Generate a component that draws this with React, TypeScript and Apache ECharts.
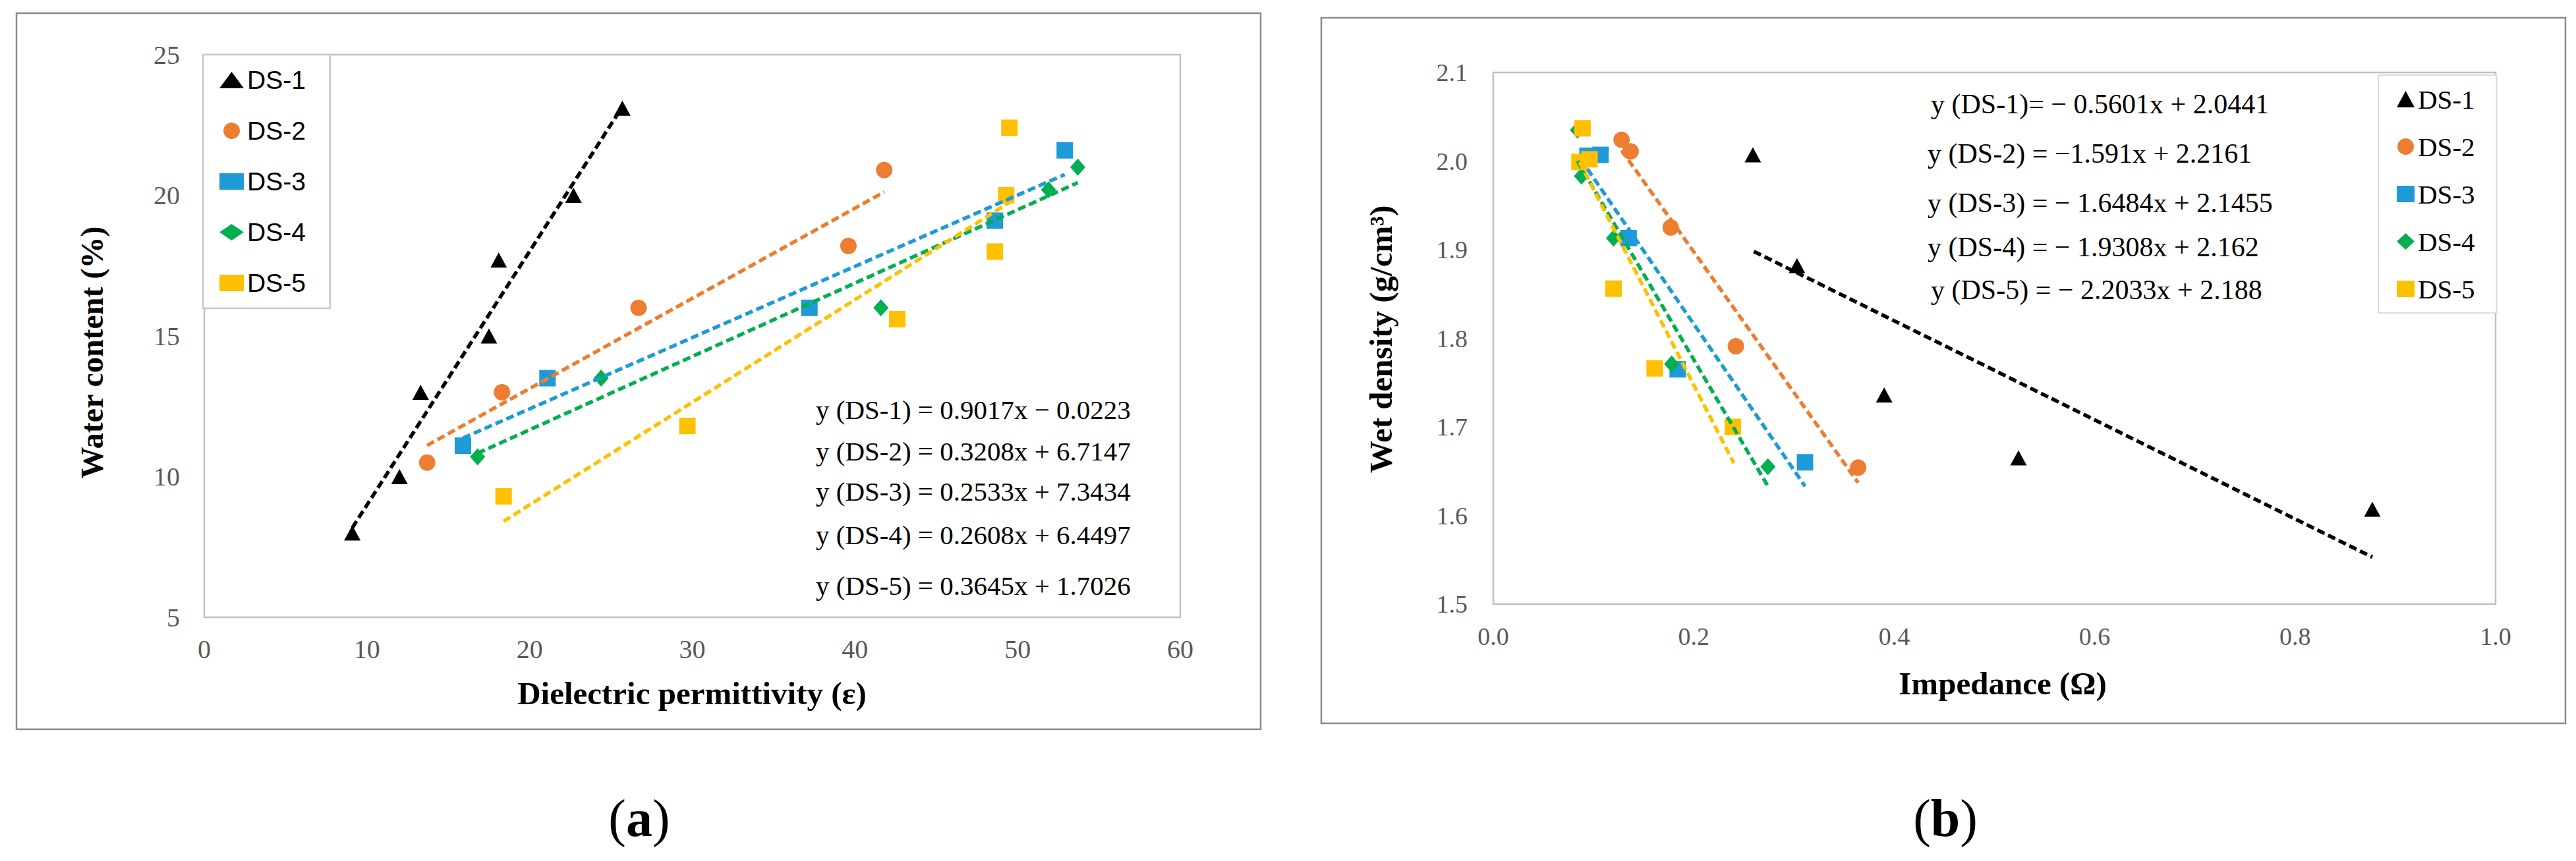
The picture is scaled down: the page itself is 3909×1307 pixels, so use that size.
import React, { useEffect, useRef } from "react";
import * as echarts from "echarts";

// ---------- data ----------
const dsNames = ["DS-1", "DS-2", "DS-3", "DS-4", "DS-5"];
const dsColors = ["#000000", "#ED7D31", "#1E9BD7", "#00B050", "#FFC000"];
const dsSymbols = ["triangle", "circle", "rect", "diamond", "rect"];

// Panel (a): dielectric permittivity vs water content
const aDS1 = [[9.1, 8.0], [12.0, 10.0], [13.3, 13.0], [17.5, 15.0], [18.1, 17.7], [22.7, 20.0], [25.7, 23.1]];
const aDS2 = [[13.7, 10.5], [18.3, 13.0], [26.7, 16.0], [39.6, 18.2], [41.8, 20.9]];
const aDS3 = [[15.9, 11.1], [21.1, 13.5], [37.2, 16.0], [48.6, 19.1], [52.9, 21.6]];
const aDS4 = [[16.8, 10.7], [24.4, 13.5], [41.6, 16.0], [51.9, 20.2], [53.7, 21.0]];
const aDS5 = [[18.4, 9.3], [29.7, 11.8], [42.6, 15.6], [48.6, 18.0], [49.3, 20.0], [49.5, 22.4]];
// trend line end points
const aTrend1 = [[9.1, 8.18], [25.7, 23.15]];
const aTrend2 = [[13.7, 11.11], [41.8, 20.12]];
const aTrend3 = [[15.9, 11.37], [52.9, 20.74]];
const aTrend4 = [[16.8, 10.83], [53.7, 20.45]];
const aTrend5 = [[18.4, 8.41], [49.5, 19.75]];
const aEquations = [
  "y (DS-1) = 0.9017x − 0.0223",
  "y (DS-2) = 0.3208x + 6.7147",
  "y (DS-3) = 0.2533x + 7.3434",
  "y (DS-4) = 0.2608x + 6.4497",
  "y (DS-5) = 0.3645x + 1.7026",
];

// Panel (b): impedance vs wet density
const bDS1 = [[0.259, 2.007], [0.303, 1.882], [0.39, 1.736], [0.524, 1.665], [0.877, 1.607]];
const bDS2 = [[0.128, 2.024], [0.137, 2.011], [0.177, 1.925], [0.242, 1.791], [0.364, 1.654]];
const bDS3 = [[0.094, 2.006], [0.107, 2.007], [0.135, 1.913], [0.184, 1.765], [0.311, 1.66]];
const bDS4 = [[0.084, 2.035], [0.088, 1.983], [0.12, 1.913], [0.178, 1.771], [0.274, 1.655]];
const bDS5 = [[0.089, 2.037], [0.086, 1.999], [0.096, 2.002], [0.12, 1.856], [0.161, 1.766], [0.239, 1.7]];
const bTrend1 = [[0.26, 1.898], [0.877, 1.553]];
const bTrend2 = [[0.128, 2.012], [0.364, 1.637]];
const bTrend3 = [[0.094, 1.991], [0.311, 1.633]];
const bTrend4 = [[0.084, 2.0], [0.274, 1.633]];
const bTrend5 = [[0.086, 1.999], [0.24, 1.659]];
const bEquations = [
  "y (DS-1)= − 0.5601x + 2.0441",
  "y (DS-2) = −1.591x + 2.2161",
  "y (DS-3) = − 1.6484x + 2.1455",
  "y (DS-4) = − 1.9308x + 2.162",
  "y (DS-5) = − 2.2033x + 2.188",
];

const aTicksX = { min: 0, max: 60, interval: 10 };
const aTicksY = { min: 5, max: 25, interval: 5 };
const bTicksX = { min: 0, max: 1, interval: 0.2 };
const bTicksY = { min: 1.5, max: 2.1, interval: 0.1 };

const aPoints = [aDS1, aDS2, aDS3, aDS4, aDS5];
const aTrends = [aTrend1, aTrend2, aTrend3, aTrend4, aTrend5];
const bPoints = [bDS1, bDS2, bDS3, bDS4, bDS5];
const bTrends = [bTrend1, bTrend2, bTrend3, bTrend4, bTrend5];

// ---------- styling ----------
const SERIF = "'Liberation Serif', 'Times New Roman', serif";
const NARROW = "'Liberation Sans Narrow', 'Liberation Sans', sans-serif";
const symbolSizes: any[] = [[25, 23], 25, 25, [23, 26], 25];

function buildOption() {
  const series: any[] = [];
  const addPanel = (idx: number, pts: number[][][], trends: number[][][]) => {
    pts.forEach((d, i) => {
      series.push({
        type: "scatter",
        name: dsNames[i],
        xAxisIndex: idx,
        yAxisIndex: idx,
        data: d,
        symbol: dsSymbols[i],
        symbolSize: symbolSizes[i],
        itemStyle: { color: dsColors[i], opacity: 1 },
        z: 2,
      });
    });
    trends.forEach((d, i) => {
      series.push({
        type: "line",
        name: dsNames[i] + " trend",
        xAxisIndex: idx,
        yAxisIndex: idx,
        data: d,
        showSymbol: false,
        symbol: "none",
        lineStyle: { color: dsColors[i], width: 5.5, type: [12, 6], cap: "butt" },
        z: 3,
        silent: true,
      });
    });
  };
  addPanel(0, aPoints, aTrends);
  addPanel(1, bPoints, bTrends);

  const axisLabel = (size: number, margin: number, fmt?: (v: number) => string) => ({
    color: "#595959",
    fontFamily: SERIF,
    fontSize: size,
    margin,
    formatter: fmt,
  });
  const common = {
    axisLine: { show: false },
    axisTick: { show: false },
    splitLine: { show: false },
  };
  const fix1 = (v: number) => v.toFixed(1);

  const graphic: any[] = [
    { type: "rect", shape: { x: 25, y: 20, width: 1888, height: 1087 }, style: { fill: "none", stroke: "#8a8a8a", lineWidth: 2.5 }, z: 0 },
    { type: "rect", shape: { x: 2005, y: 27, width: 1888, height: 1071 }, style: { fill: "none", stroke: "#8a8a8a", lineWidth: 2.5 }, z: 0 },
    // axis titles
    { type: "text", x: 139, y: 535, rotation: Math.PI / 2, style: { text: "Water content (%)", fontFamily: SERIF, fontWeight: "bold", fontSize: 48, fill: "#000", align: "center", verticalAlign: "middle" } },
    { type: "text", x: 1050, y: 1052, style: { text: "Dielectric permittivity (ε)", fontFamily: SERIF, fontWeight: "bold", fontSize: 49, fill: "#000", align: "center", verticalAlign: "middle" } },
    { type: "text", x: 2095, y: 515, rotation: Math.PI / 2, style: { text: "Wet density (g/cm³)", fontFamily: SERIF, fontWeight: "bold", fontSize: 49, fill: "#000", align: "center", verticalAlign: "middle" } },
    { type: "text", x: 3039, y: 1037, style: { text: "Impedance (Ω)", fontFamily: SERIF, fontWeight: "bold", fontSize: 49, fill: "#000", align: "center", verticalAlign: "middle" } },
    // panel labels
    { type: "text", x: 970, y: 1242, style: { text: "({b|a})", rich: { b: { fontWeight: "bold", fontFamily: SERIF, fontSize: 80 } }, fontFamily: SERIF, fontSize: 80, fill: "#000", align: "center", verticalAlign: "middle" } },
    { type: "text", x: 2952, y: 1242, style: { text: "({b|b})", rich: { b: { fontWeight: "bold", fontFamily: SERIF, fontSize: 80 } }, fontFamily: SERIF, fontSize: 80, fill: "#000", align: "center", verticalAlign: "middle" } },
  ];
  const aEqY = [622, 685, 746, 812, 889];
  aEquations.forEach((t, i) =>
    graphic.push({ type: "text", x: 1238, y: aEqY[i], style: { text: t, fontFamily: SERIF, fontSize: 41, fill: "#000", align: "left", verticalAlign: "middle" } })
  );
  const bEqY = [158, 233, 308, 375, 440];
  const bEqX = [2930, 2925, 2925, 2925, 2930];
  bEquations.forEach((t, i) =>
    graphic.push({ type: "text", x: bEqX[i], y: bEqY[i], style: { text: t, fontFamily: SERIF, fontSize: 42, fill: "#000", align: "left", verticalAlign: "middle" } })
  );

  return {
    animation: false,
    backgroundColor: "#ffffff",
    grid: [
      { left: 310, top: 83, width: 1481, height: 854, show: true, borderColor: "#c0c0c0", borderWidth: 2.5, backgroundColor: "transparent" },
      { left: 2266, top: 110, width: 1521, height: 807, show: true, borderColor: "#c0c0c0", borderWidth: 2.5, backgroundColor: "transparent" },
    ],
    xAxis: [
      { type: "value", gridIndex: 0, ...aTicksX, ...common, axisLabel: axisLabel(40, 28) },
      { type: "value", gridIndex: 1, ...bTicksX, ...common, axisLabel: axisLabel(38, 30, fix1) },
    ],
    yAxis: [
      { type: "value", gridIndex: 0, ...aTicksY, ...common, axisLabel: axisLabel(40, 37) },
      { type: "value", gridIndex: 1, ...bTicksY, ...common, axisLabel: axisLabel(38, 39, fix1) },
    ],
    legend: [
      {
        orient: "vertical",
        left: 308,
        top: 83,
        data: dsNames.map((n, i) => ({ name: n, icon: dsSymbols[i] })),
        itemWidth: 37,
        itemHeight: 25,
        itemGap: 38,
        symbolKeepAspect: true,
        padding: [19, 37, 19, 25],
        borderColor: "#c8c8c8",
        borderWidth: 2.5,
        backgroundColor: "#ffffff",
        selectedMode: false,
        textStyle: { fontFamily: NARROW, fontSize: 39, color: "#000", lineHeight: 38 },
        z: 4,
      },
      {
        orient: "vertical",
        left: 3609,
        top: 114,
        data: dsNames.map((n, i) => ({ name: n, icon: dsSymbols[i] })),
        itemWidth: 27,
        itemHeight: 25,
        itemGap: 31,
        symbolKeepAspect: true,
        padding: [16, 33, 16, 28],
        borderColor: "#dcdcdc",
        borderWidth: 2,
        backgroundColor: "#ffffff",
        selectedMode: false,
        textStyle: { fontFamily: SERIF, fontSize: 41, color: "#000", lineHeight: 40 },
        z: 4,
      },
    ],
    series,
    graphic,
  };
}

export default function App() {
  const ref = useRef<HTMLDivElement>(null);
  useEffect(() => {
    if (!ref.current) return;
    const chart = echarts.init(ref.current, null, { renderer: "svg" });
    chart.setOption(buildOption() as any);
    return () => chart.dispose();
  }, []);
  return (
    <div
      ref={ref}
      style={{ position: "absolute", left: 0, top: 0, width: 3909, height: 1307, background: "#fff" }}
    />
  );
}
